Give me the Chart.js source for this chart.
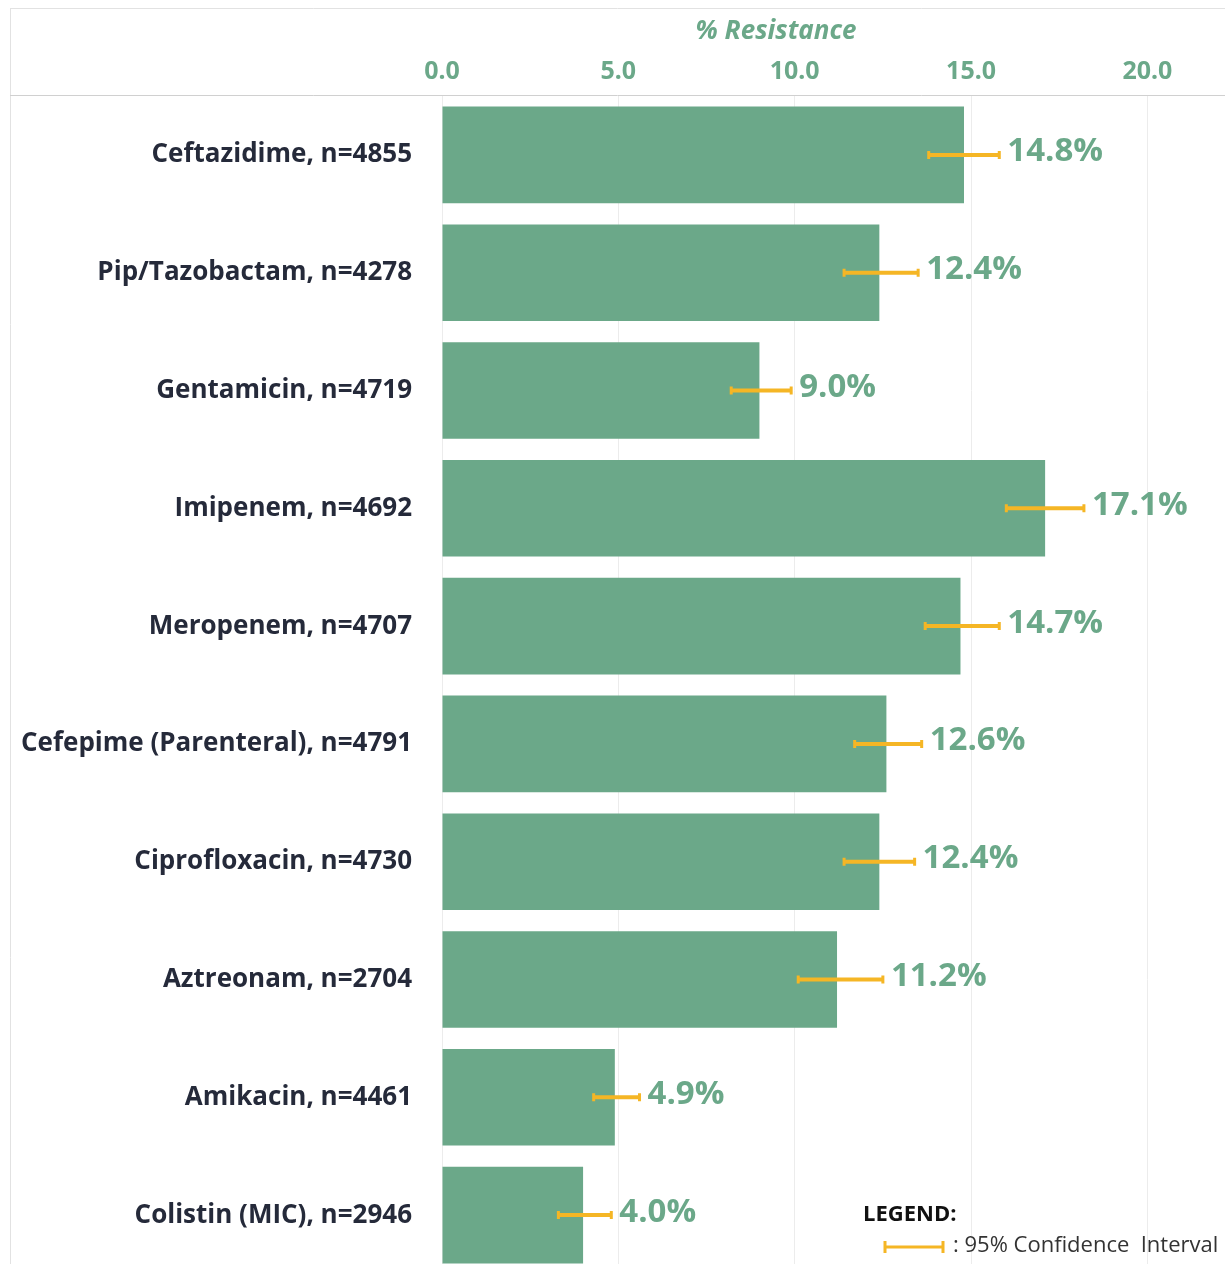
<!DOCTYPE html>
<html>
<head>
<meta charset="utf-8">
<script src="https://cdn.jsdelivr.net/npm/chart.js@4.4.1/dist/chart.umd.min.js"></script>
<style>
  html, body { margin: 0; padding: 0; background: #fff; overflow: hidden; }
  #wrap { width: 1225px; height: 1274px; }
</style>
</head>
<body>
<div id="wrap"><canvas id="resistencia" width="1225" height="1274"></canvas></div>
<script>
var antibiotics = [
  'Ceftazidime, n=4855',
  'Pip/Tazobactam, n=4278',
  'Gentamicin, n=4719',
  'Imipenem, n=4692',
  'Meropenem, n=4707',
  'Cefepime (Parenteral), n=4791',
  'Ciprofloxacin, n=4730',
  'Aztreonam, n=2704',
  'Amikacin, n=4461',
  'Colistin (MIC), n=2946'
];
var resistance = [14.8, 12.4, 9.0, 17.1, 14.7, 12.6, 12.4, 11.2, 4.9, 4.0];
var ciLow  = [13.8, 11.4, 8.2, 16.0, 13.7, 11.7, 11.4, 10.1, 4.3, 3.3];
var ciHigh = [15.8, 13.5, 9.9, 18.2, 15.8, 13.6, 13.4, 12.5, 5.6, 4.8];
var xTicks = [0, 5, 10, 15, 20];

var GREEN = '#6ba889';
var ORANGE = '#f5b625';

// thin frame around the panel, axis header rule and the axis title
var frame = {
  id: 'frame',
  beforeDraw: function(chart) {
    var c = chart.ctx, a = chart.chartArea;
    c.save();
    c.strokeStyle = '#e2e2e2';
    c.lineWidth = 1;
    c.beginPath();
    c.moveTo(10, 8.5); c.lineTo(1225, 8.5);
    c.moveTo(10.5, 8); c.lineTo(10.5, chart.height);
    c.stroke();
    c.strokeStyle = '#d0d0d0';
    c.beginPath();
    c.moveTo(10, a.top - 0.5); c.lineTo(1225, a.top - 0.5);
    c.stroke();

    c.fillStyle = GREEN;
    c.font = 'italic bold 26px "Noto Sans", sans-serif';
    c.textAlign = 'center';
    c.textBaseline = 'middle';
    c.fillText('% Resistance', 776, 32);
    c.restore();
  }
};

// confidence interval whiskers and value labels
var errorBars = {
  id: 'errorBars',
  afterDatasetsDraw: function(chart) {
    var c = chart.ctx, xs = chart.scales.x;
    var meta = chart.getDatasetMeta(0);
    c.save();
    meta.data.forEach(function(bar, i) {
      var y = bar.y;
      var x1 = xs.getPixelForValue(ciLow[i]);
      var x2 = xs.getPixelForValue(ciHigh[i]);
      c.strokeStyle = ORANGE;
      c.lineWidth = 4;
      c.beginPath();
      c.moveTo(x1, y); c.lineTo(x2, y);
      c.stroke();
      c.lineWidth = 3;
      c.beginPath();
      c.moveTo(x1, y - 4); c.lineTo(x1, y + 4);
      c.moveTo(x2, y - 4); c.lineTo(x2, y + 4);
      c.stroke();

      c.fillStyle = GREEN;
      c.font = 'bold 33px "Open Sans", sans-serif';
      c.textAlign = 'left';
      c.textBaseline = 'middle';
      c.fillText(resistance[i].toFixed(1) + '%', x2 + 8, y - 3);
    });
    c.restore();
  }
};

var legendNote = {
  id: 'legendNote',
  afterDraw: function(chart) {
    var c = chart.ctx;
    c.save();
    c.textBaseline = 'middle';
    c.textAlign = 'left';
    c.fillStyle = '#111';
    c.font = 'bold 22px "Open Sans", sans-serif';
    c.fillText('LEGEND:', 863, 1215);
    c.strokeStyle = ORANGE;
    c.lineWidth = 3;
    c.beginPath();
    c.moveTo(884, 1247); c.lineTo(944, 1247);
    c.moveTo(885, 1241); c.lineTo(885, 1253);
    c.moveTo(943, 1241); c.lineTo(943, 1253);
    c.stroke();
    c.fillStyle = '#333';
    c.font = '22px "Open Sans", sans-serif';
    c.fillText(': 95% Confidence  Interval', 953, 1246);
    c.restore();
  }
};

var ctx_res = document.getElementById('resistencia').getContext('2d');
var resGraph = new Chart(ctx_res, {
  type: 'bar',
  data: {
    labels: antibiotics,
    datasets: [{
      label: '% Resistance',
      data: resistance,
      backgroundColor: GREEN,
      borderWidth: 0,
      barPercentage: 0.82,
      categoryPercentage: 1
    }]
  },
  options: {
    indexAxis: 'y',
    responsive: false,
    animation: false,
    devicePixelRatio: 1,
    layout: { padding: { top: 8, left: 0, right: 0, bottom: 0 } },
    plugins: {
      legend: { display: false },
      tooltip: { enabled: false }
    },
    scales: {
      x: {
        type: 'linear',
        position: 'top',
        min: 0,
        max: 22.2,
        afterBuildTicks: function(s) {
          s.ticks = xTicks.map(function(v) { return { value: v }; });
        },
        afterFit: function(s) { s.height = 88; },
        border: { display: false },
        grid: { color: '#ececec', drawTicks: false },
        ticks: {
          padding: 9,
          color: GREEN,
          font: { family: '"Noto Sans", sans-serif', size: 25, weight: 'bold' },
          callback: function(v) { return Number(v).toFixed(1); }
        }
      },
      y: {
        afterFit: function(s) {
          s.width = 442;
          s.paddingTop = 0;
          s.paddingBottom = 0;
        },
        border: { display: false },
        grid: { display: false },
        ticks: {
          padding: 22,
          color: '#252a3a',
          font: { family: '"Open Sans", sans-serif', size: 26, weight: 'bold' }
        }
      }
    }
  },
  plugins: [frame, errorBars, legendNote]
});
</script>
</body>
</html>
